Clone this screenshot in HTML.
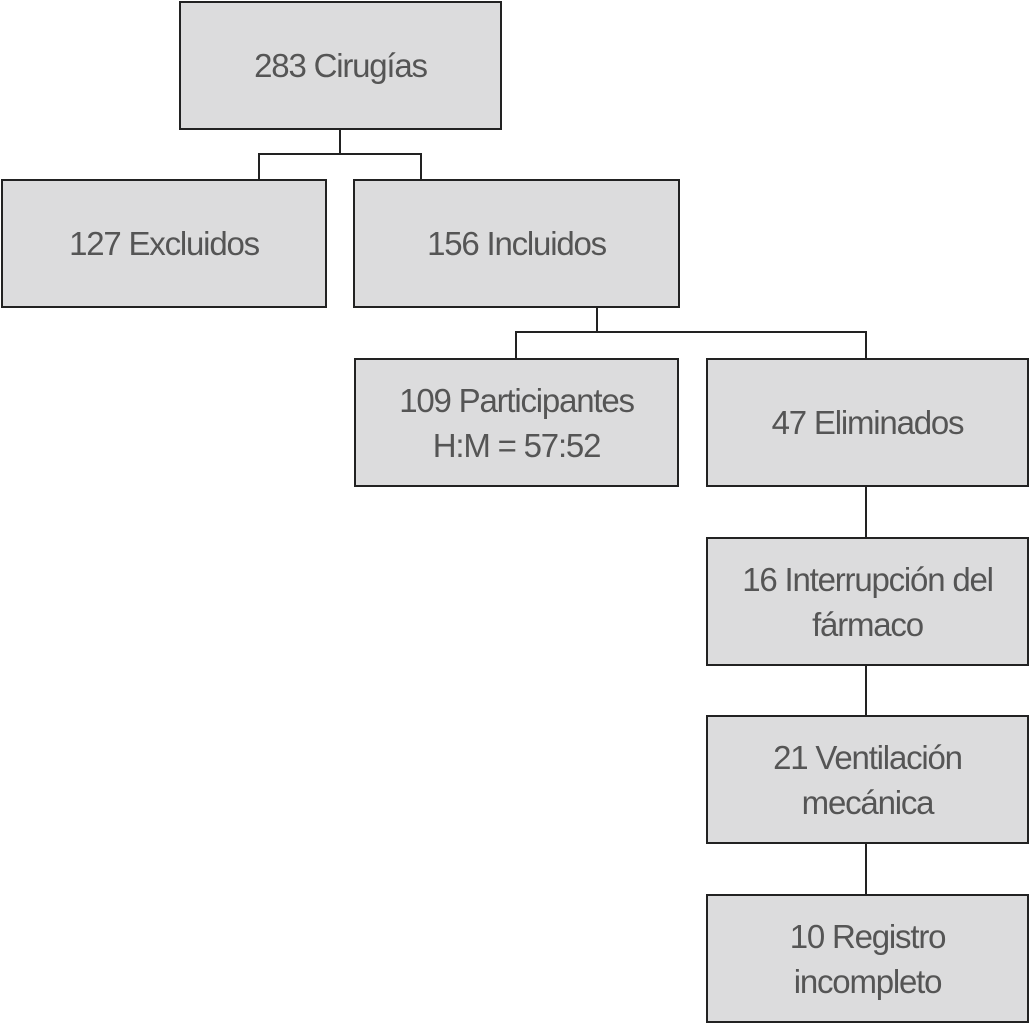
<!DOCTYPE html>
<html><head><meta charset="utf-8"><style>
html,body{margin:0;padding:0;background:#fff;}
body{width:1030px;height:1024px;position:relative;overflow:hidden;font-family:"Liberation Sans",Arial,sans-serif;}
.b{position:absolute;box-sizing:border-box;background:#dcdcdd;border:2px solid #222;display:flex;align-items:center;justify-content:center;text-align:center;color:#555;font-size:33px;line-height:45px;letter-spacing:-1.2px;}
.l{position:absolute;background:#222;}
</style></head><body>
<div class="b" style="left:179px;top:1px;width:323px;height:129px;">283 Cirugías</div>
<div class="b" style="left:1px;top:179px;width:326px;height:129px;">127 Excluidos</div>
<div class="b" style="left:353px;top:179px;width:327px;height:129px;">156 Incluidos</div>
<div class="b" style="left:354px;top:358px;width:325px;height:129px;">109 Participantes<br>H:M = 57:52</div>
<div class="b" style="left:706px;top:358px;width:323px;height:129px;">47 Eliminados</div>
<div class="b" style="left:706px;top:537px;width:323px;height:129px;">16 Interrupción del<br>fármaco</div>
<div class="b" style="left:706px;top:715px;width:323px;height:129px;">21 Ventilación<br>mecánica</div>
<div class="b" style="left:706px;top:894px;width:323px;height:129px;">10 Registro<br>incompleto</div>

<div class="l" style="left:339px;top:130px;width:2px;height:25px;"></div>
<div class="l" style="left:258px;top:153px;width:164px;height:2px;"></div>
<div class="l" style="left:258px;top:153px;width:2px;height:26px;"></div>
<div class="l" style="left:420px;top:153px;width:2px;height:26px;"></div>

<div class="l" style="left:596px;top:308px;width:2px;height:25px;"></div>
<div class="l" style="left:515px;top:331px;width:352px;height:2px;"></div>
<div class="l" style="left:515px;top:331px;width:2px;height:27px;"></div>
<div class="l" style="left:865px;top:331px;width:2px;height:27px;"></div>

<div class="l" style="left:865px;top:487px;width:2px;height:50px;"></div>
<div class="l" style="left:865px;top:666px;width:2px;height:49px;"></div>
<div class="l" style="left:865px;top:844px;width:2px;height:50px;"></div>
</body></html>
